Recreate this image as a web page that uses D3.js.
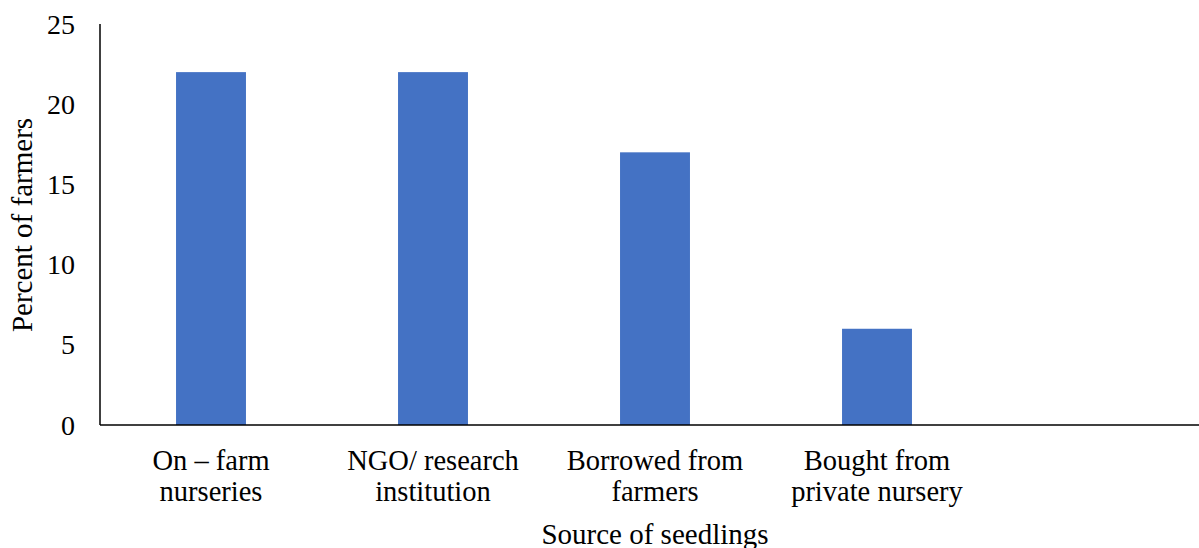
<!DOCTYPE html>
<html>
<head>
<meta charset="utf-8">
<script src="https://cdn.jsdelivr.net/npm/d3@7"></script>
<style>
  body { margin: 0; background: #fff; }
  svg { display: block; }
  text { font-family: 'Liberation Serif', 'Times New Roman', Times, 'DejaVu Serif', serif; fill: #000; }
  .tick-label { font-size: 28px; }
  .cat-label { font-size: 28.5px; }
  .axis-title { font-size: 29px; }
</style>
</head>
<body>
<svg width="1199" height="548"></svg>
<script>
// data
const categories = ["On – farm|nurseries", "NGO/ research|institution", "Borrowed from|farmers", "Bought from|private nursery", ""];
const percents = [22, 22, 17, 6, null];
const yTicks = [0, 5, 10, 15, 20, 25];

const svg = d3.select("svg");
const plotLeft = 100, plotRight = 1210, plotTop = 24, plotBottom = 425;

const x = d3.scaleBand()
    .domain(categories)
    .range([plotLeft, plotRight])
    .paddingInner(0.685)
    .paddingOuter(0.3425);

const y = d3.scaleLinear()
    .domain([0, 25])
    .range([plotBottom, plotTop]);

// bars
svg.append("g")
    .selectAll("rect")
    .data(categories.map((c, i) => ({ c, v: percents[i] })).filter(d => d.v != null))
    .join("rect")
    .attr("x", d => x(d.c))
    .attr("y", d => y(d.v))
    .attr("width", x.bandwidth())
    .attr("height", d => y(0) - y(d.v))
    .attr("fill", "#4472C4");

// axes lines
svg.append("line")
    .attr("x1", plotLeft).attr("x2", plotLeft)
    .attr("y1", y(25)).attr("y2", y(0))
    .attr("stroke", "#000").attr("stroke-width", 1.5);

svg.append("line")
    .attr("x1", plotLeft).attr("x2", 1199)
    .attr("y1", y(0)).attr("y2", y(0))
    .attr("stroke", "#000").attr("stroke-width", 1.5);

// y tick labels
svg.append("g")
    .selectAll("text")
    .data(yTicks)
    .join("text")
    .attr("class", "tick-label")
    .attr("x", 75)
    .attr("y", d => y(d) + 9.5)
    .attr("text-anchor", "end")
    .text(d => d);

// category labels
const cat = svg.append("g")
    .selectAll("text")
    .data(categories.filter(c => c))
    .join("text")
    .attr("class", "cat-label")
    .attr("text-anchor", "middle")
    .attr("x", d => x(d) + x.bandwidth() / 2)
    .attr("y", 470);

cat.each(function(d) {
    const parts = d.split("|");
    const t = d3.select(this);
    const cx = x(d) + x.bandwidth() / 2;
    parts.forEach((p, i) => {
        t.append("tspan").attr("x", cx).attr("dy", i === 0 ? 0 : 31).text(p);
    });
});

// axis titles
svg.append("text")
    .attr("class", "axis-title")
    .attr("text-anchor", "middle")
    .attr("x", 655)
    .attr("y", 544)
    .text("Source of seedlings");

svg.append("text")
    .attr("class", "axis-title")
    .attr("text-anchor", "middle")
    .attr("transform", "translate(32,225) rotate(-90)")
    .text("Percent of farmers");
</script>
</body>
</html>
